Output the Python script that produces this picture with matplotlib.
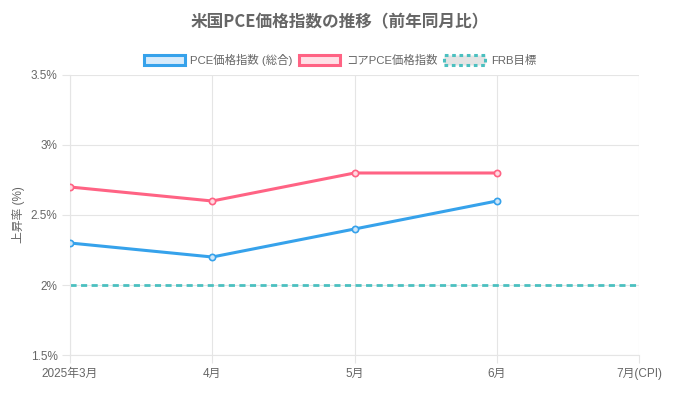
import numpy as np
import matplotlib.pyplot as plt
from matplotlib.patches import Patch

plt.rcParams['font.family'] = ['Liberation Sans', 'Noto Sans CJK JP', 'DejaVu Sans']

# data
months = ['2025年3月', '4月', '5月', '6月', '7月(CPI)']
pce = [2.3, 2.2, 2.4, 2.6, np.nan]
core_pce = [2.7, 2.6, 2.8, 2.8, np.nan]
frb_target = [2.0, 2.0, 2.0, 2.0, 2.0]
y_ticks = [1.5, 2.0, 2.5, 3.0, 3.5]
y_labels = ['1.5%', '2%', '2.5%', '3%', '3.5%']

blue = '#36A2EB'
pink = '#FF6384'
teal = '#4BC0C0'
txt = '#666666'
grid = '#e5e5e5'

fig = plt.figure(figsize=(6.8, 3.98), dpi=100)
ax = fig.add_axes([0.1029, 0.108, 0.837, 0.7036])
x = np.arange(len(months))

ax.plot(x, pce, '-o', color=blue, lw=2.2, ms=4.5, mfc='#cfe6f8', mec=blue, mew=1.2, zorder=3)
ax.plot(x, core_pce, '-o', color=pink, lw=2.2, ms=4.5, mfc='#ffd9e0', mec=pink, mew=1.2, zorder=3)
ax.plot(x, frb_target, linestyle=(0, (2.2, 1.6)), color=teal, lw=2.0, zorder=2)

ax.set_xlim(0, 4)
ax.set_ylim(1.5, 3.5)
ax.set_xticks(x)
ax.set_xticklabels(months)
ax.set_yticks(y_ticks)
ax.set_yticklabels(y_labels)
ax.tick_params(colors=txt, labelsize=8.5, length=6, width=0.8, color=grid, pad=3)
ax.tick_params(axis='x', labelcolor=txt)
ax.grid(True, color=grid, lw=0.8)
for s in ['top', 'right']:
    ax.spines[s].set_visible(False)
for s in ['left', 'bottom']:
    ax.spines[s].set_color(grid)
    ax.spines[s].set_linewidth(0.8)
ax.set_axisbelow(True)
ax.set_ylabel('上昇率 (%)', color=txt, fontsize=8.5, labelpad=4)

fig.text(0.5, 0.945, '米国PCE価格指数の推移（前年同月比）', ha='center', va='center',
         fontsize=12, fontweight='bold', color=txt, family=['Noto Sans CJK JP', 'DejaVu Sans'])

handles = [
    Patch(facecolor='#d7ebfb', edgecolor=blue, linewidth=2.2),
    Patch(facecolor='#ffe0e6', edgecolor=pink, linewidth=2.2),
    Patch(facecolor='#e4e4e4', edgecolor=teal, linewidth=2.2, linestyle=(0, (1.2, 1.2))),
]
fig.legend(handles, ['PCE価格指数 (総合)', 'コアPCE価格指数', 'FRB目標'],
           loc='center', bbox_to_anchor=(0.5, 0.85), ncol=3, frameon=False,
           fontsize=8.2, labelcolor=txt, handlelength=3.6, handleheight=0.9,
           handletextpad=0.5, columnspacing=0.6)

fig.savefig('out.png', dpi=100)
